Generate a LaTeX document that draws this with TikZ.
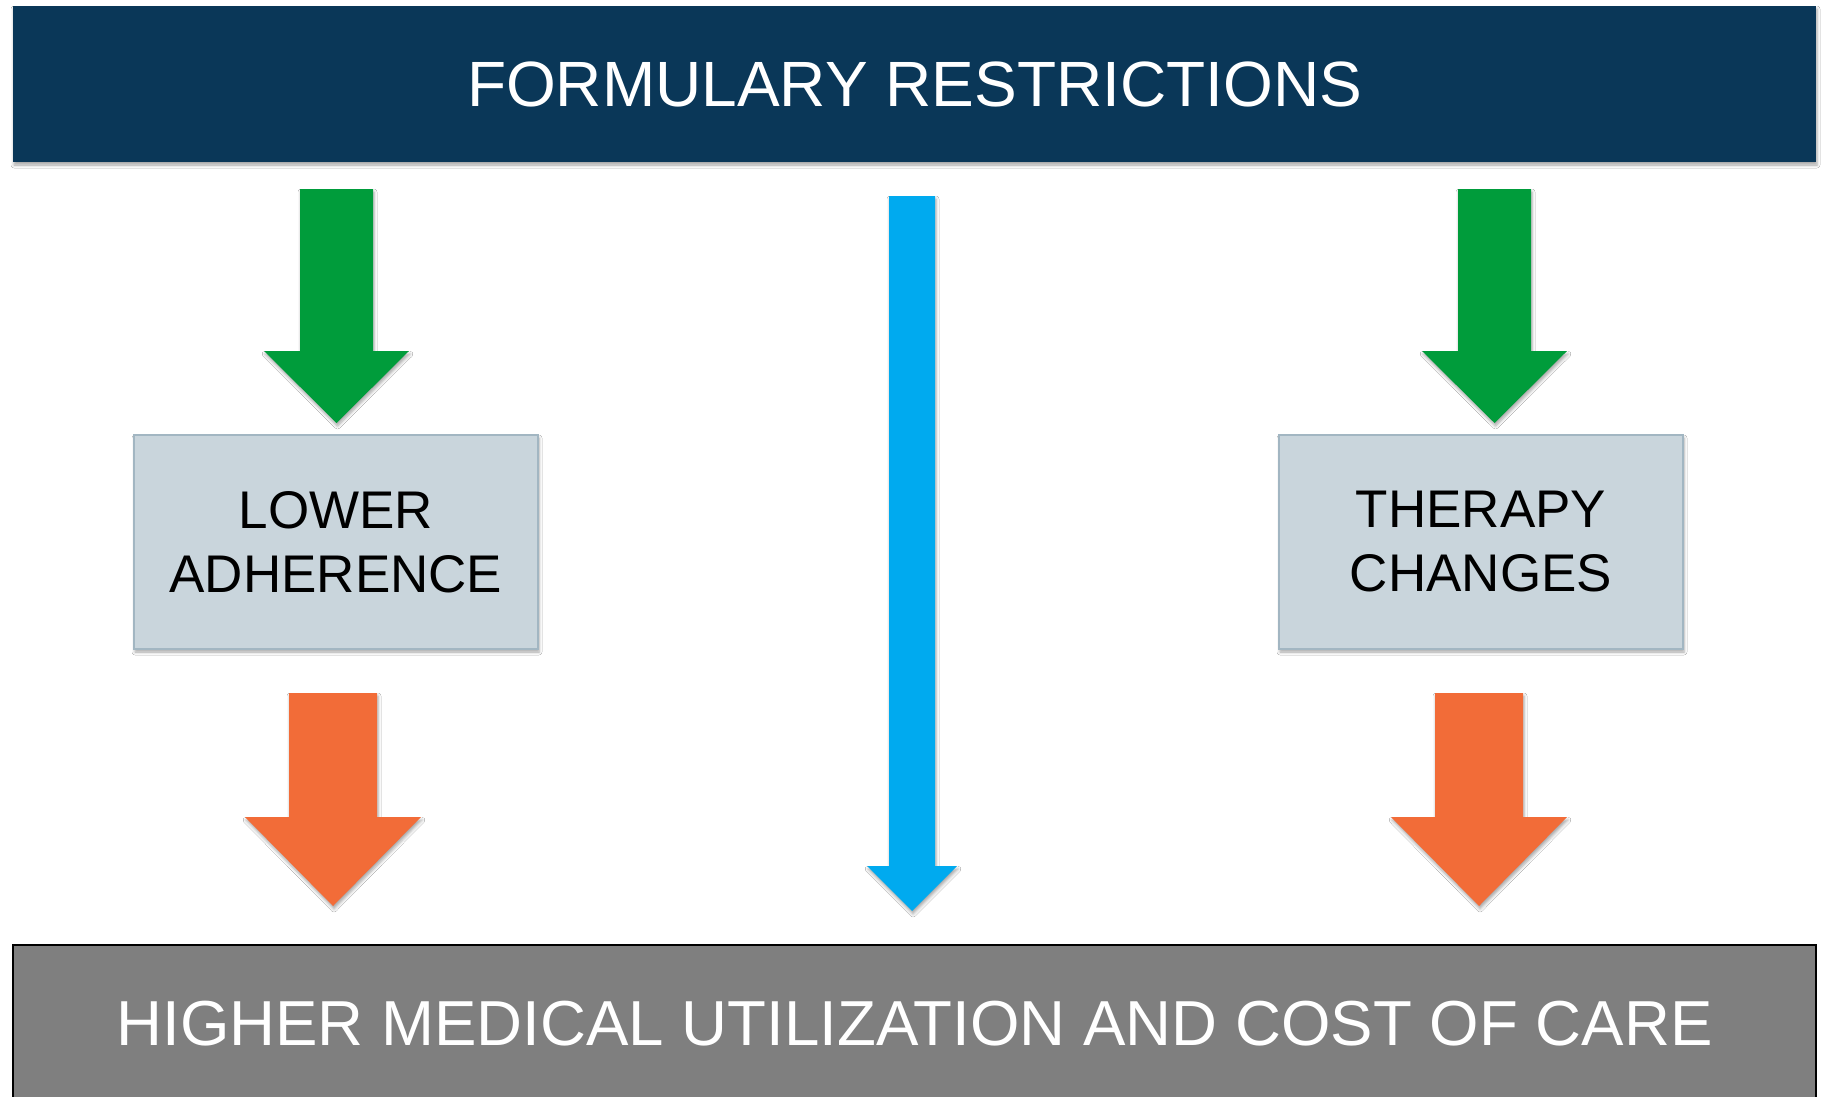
\documentclass[tikz,border=0pt]{standalone}
\usepackage{fontspec}
\setmainfont{Liberation Sans}
\usetikzlibrary{shadows.blur}
\definecolor{navy}{HTML}{0A3758}
\definecolor{boxfill}{HTML}{C9D5DC}
\definecolor{boxline}{HTML}{A2B6C2}
\definecolor{arrgreen}{HTML}{009C3B}
\definecolor{arrblue}{HTML}{00AAEF}
\definecolor{arrorange}{HTML}{F26C38}
\definecolor{bottomgray}{HTML}{7F7F7F}
\begin{document}
\begin{tikzpicture}[x=1pt,y=-1pt,
  softshadow/.style={blur shadow={shadow xshift=1pt,shadow yshift=-3pt,shadow blur radius=3pt,shadow opacity=35}},
  banner/.style={rectangle,fill=navy,text=white,inner sep=0pt,minimum width=1803pt,minimum height=156pt,
    font=\fontsize{64}{77}\selectfont,softshadow},
  midbox/.style={rectangle,fill=boxfill,draw=boxline,line width=1.2pt,inner sep=0pt,minimum width=404pt,minimum height=214pt,
    align=center,text=black,font=\fontsize{53}{64}\selectfont,softshadow},
  bottombox/.style={rectangle,fill=bottomgray,draw=black,line width=2pt,inner sep=0pt,minimum width=1803pt,minimum height=157pt,
    text=white,font=\fontsize{63.6}{76}\selectfont},
  greenarrow/.style={fill=arrgreen,softshadow},
  bluearrow/.style={fill=arrblue,softshadow},
  orangearrow/.style={fill=arrorange,softshadow}
]
\useasboundingbox (0,0) rectangle (1821,1097);
\fill[white] (0,0) rectangle (1821,1097);

\node[banner] (top) at (914.5,84) {FORMULARY RESTRICTIONS};
\node[midbox] (lower) at (336,542) {LOWER\\ADHERENCE};
\node[midbox] (therapy) at (1481,542) {THERAPY\\CHANGES};
\node[bottombox] (bottom) at (914.5,1023.5) {HIGHER MEDICAL UTILIZATION AND COST OF CARE};

% green block arrows
\path[greenarrow] (300,189) -- (373,189) -- (373,351) -- (409,351) -- (336.5,423) -- (264,351) -- (300,351) -- cycle;
\path[greenarrow] (1458,189) -- (1531,189) -- (1531,351) -- (1567,351) -- (1494.5,423) -- (1422,351) -- (1458,351) -- cycle;
% blue block arrow
\path[bluearrow] (889,196) -- (935,196) -- (935,866) -- (957,866) -- (912,911) -- (867,866) -- (889,866) -- cycle;
% orange block arrows
\path[orangearrow] (289,693) -- (377,693) -- (377,817) -- (421,817) -- (333,906) -- (245,817) -- (289,817) -- cycle;
\path[orangearrow] (1435,693) -- (1523,693) -- (1523,817) -- (1567,817) -- (1479,906) -- (1391,817) -- (1435,817) -- cycle;
\end{tikzpicture}
\end{document}
